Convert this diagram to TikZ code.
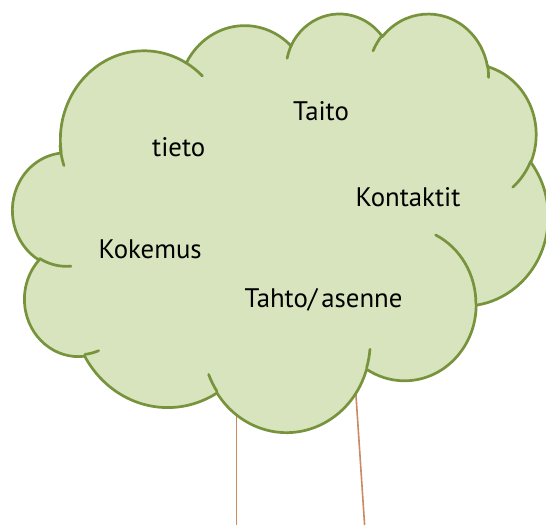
\documentclass[tikz,border=0pt]{standalone}
\usepackage{fontspec}
\setmainfont{PT Sans}

% Start/end parametric angles of an elliptic arc given by its visual
% start angle and sweep (DrawingML convention); stored as \<name>s, \<name>e.
\newcommand\lobeangles[5]{%
  \pgfmathsetmacro\lobeS{atan2((#2)*sin(#4),(#3)*cos(#4))}%
  \pgfmathsetmacro\lobeE{atan2((#2)*sin((#4)+(#5)),(#3)*cos((#4)+(#5)))}%
  \pgfmathsetmacro\lobeE{(\lobeS)+mod((\lobeE)-(\lobeS)+720,360)}%
  \expandafter\let\csname #1s\endcsname\lobeS
  \expandafter\let\csname #1e\endcsname\lobeE
}

\definecolor{leaf}{HTML}{D7E4BD}
\definecolor{leafedge}{HTML}{77933C}
\definecolor{bark}{RGB}{203,138,96}

\tikzset{
  cloudshape/.style={fill=leaf, draw=leafedge, line width=2.7pt, line join=round},
  cloudfold/.style={draw=leafedge, line width=2.7pt, line cap=round},
  trunkline/.style={draw=bark, line width=1.6pt},
  word/.style={anchor=base west, inner sep=0pt, text=black,
    font=\fontsize{26.8}{30}\selectfont},
}

\begin{document}
\begin{tikzpicture}[x=1pt,y=-1pt]
\useasboundingbox (0,0) rectangle (546,525);

% trunk, partly hidden behind the crown
\coordinate (tl1) at (236.6,400);
\coordinate (tl2) at (236.6,525);
\coordinate (tr1) at (355.3,385);
\coordinate (tr2) at (364.6,525);
\draw[trunkline] (tl1) -- (tl2);
\draw[trunkline] (tr1) -- (tr2);

% crown: eleven elliptic lobes
\begin{scope}[shift={(12.8pt,-12.6pt)}, x=1.2389pt, y=-0.9688pt]
  \lobeangles{oA}{67.53}{91.90}{-190.4875}{123.7805}
  \lobeangles{oB}{53.33}{72.67}{-144.1024}{89.9452}
  \lobeangles{oC}{43.65}{59.45}{-145.8079}{99.7230}
  \lobeangles{oD}{48.57}{65.95}{-130.9861}{117.2417}
  \lobeangles{oE}{53.33}{72.73}{-78.7089}{109.0269}
  \lobeangles{oF}{67.75}{92.20}{-46.2673}{130.2690}
  \lobeangles{oG}{57.85}{78.67}{0.6250}{114.0333}
  \lobeangles{oH}{67.52}{92.15}{22.4511}{115.1726}
  \lobeangles{oI}{77.20}{105.43}{66.2426}{75.7110}
  \lobeangles{oJ}{43.60}{59.18}{-274.9421}{146.7356}
  \lobeangles{oK}{43.45}{59.45}{-246.8285}{152.5189}
  \draw[cloudshape] (39.00,143.70)
    arc[start angle=\oAs, end angle=\oAe, x radius=67.53, y radius=91.90]
    arc[start angle=\oBs, end angle=\oBe, x radius=53.33, y radius=72.67]
    arc[start angle=\oCs, end angle=\oCe, x radius=43.65, y radius=59.45]
    arc[start angle=\oDs, end angle=\oDe, x radius=48.57, y radius=65.95]
    arc[start angle=\oEs, end angle=\oEe, x radius=53.33, y radius=72.73]
    arc[start angle=\oFs, end angle=\oFe, x radius=67.75, y radius=92.20]
    arc[start angle=\oGs, end angle=\oGe, x radius=57.85, y radius=78.67]
    arc[start angle=\oHs, end angle=\oHe, x radius=67.52, y radius=92.15]
    arc[start angle=\oIs, end angle=\oIe, x radius=77.20, y radius=105.43]
    arc[start angle=\oJs, end angle=\oJe, x radius=43.60, y radius=59.18]
    arc[start angle=\oKs, end angle=\oKe, x radius=43.45, y radius=59.45]
    -- cycle;

  % folds where the lobes overlap
  \lobeangles{iA}{43.45}{59.45}{86.7420}{26.4295}
  \lobeangles{iB}{43.60}{59.18}{73.6105}{11.4475}
  \lobeangles{iC}{67.52}{92.15}{137.6242}{14.0811}
  \lobeangles{iD}{67.52}{92.15}{6.4533}{15.9984}
  \lobeangles{iE}{57.85}{78.67}{-70.2924}{70.9174}
  \lobeangles{iF}{53.33}{72.73}{30.3180}{27.7515}
  \lobeangles{iG}{48.57}{65.95}{-13.7443}{14.8589}
  \lobeangles{iH}{48.57}{65.95}{-149.1815}{18.1954}
  \lobeangles{iI}{43.65}{59.45}{-163.4943}{17.6864}
  \lobeangles{iJ}{67.53}{91.90}{-66.7070}{12.3194}
  \lobeangles{iK}{67.53}{91.90}{155.6472}{17.4254}
  \draw[cloudfold]
    (46.93,261.77) arc[start angle=\iAs, end angle=\iAe, x radius=43.45, y radius=59.45]
    (69.28,348.99) arc[start angle=\iBs, end angle=\iBe, x radius=43.60, y radius=59.18]
    (164.78,390.90) arc[start angle=\iCs, end angle=\iCe, x radius=67.52, y radius=92.15]
    (288.27,347.51) arc[start angle=\iDs, end angle=\iDe, x radius=67.52, y radius=92.15]
    (341.29,229.54) arc[start angle=\iEs, end angle=\iEe, x radius=57.85, y radius=78.67]
    (417.98,153.54) arc[start angle=\iFs, end angle=\iFe, x radius=53.33, y radius=72.73]
    (383.24,54.26) arc[start angle=\iGs, end angle=\iGe, x radius=48.57, y radius=65.95]
    (290.78,39.52) arc[start angle=\iHs, end angle=\iHe, x radius=48.57, y radius=65.95]
    (221.41,47.20) arc[start angle=\iIs, end angle=\iIe, x radius=43.65, y radius=59.45]
    (140.00,51.92) arc[start angle=\iJs, end angle=\iJe, x radius=67.53, y radius=91.90]
    (41.27,157.89) arc[start angle=\iKs, end angle=\iKe, x radius=67.53, y radius=91.90];
\end{scope}

% labels
\node[word] (taito) at (293,120.7) {Taito};
\node[word] (tieto) at (152,156.7) {tieto};
\node[word] (kontaktit) at (355.5,206) {Kontaktit};
\node[word] (kokemus) at (98.5,258.7) {Kokemus};
\node[word] (tahto) at (244.5,307) {Tahto/\kern4pt asenne};
\end{tikzpicture}
\end{document}
